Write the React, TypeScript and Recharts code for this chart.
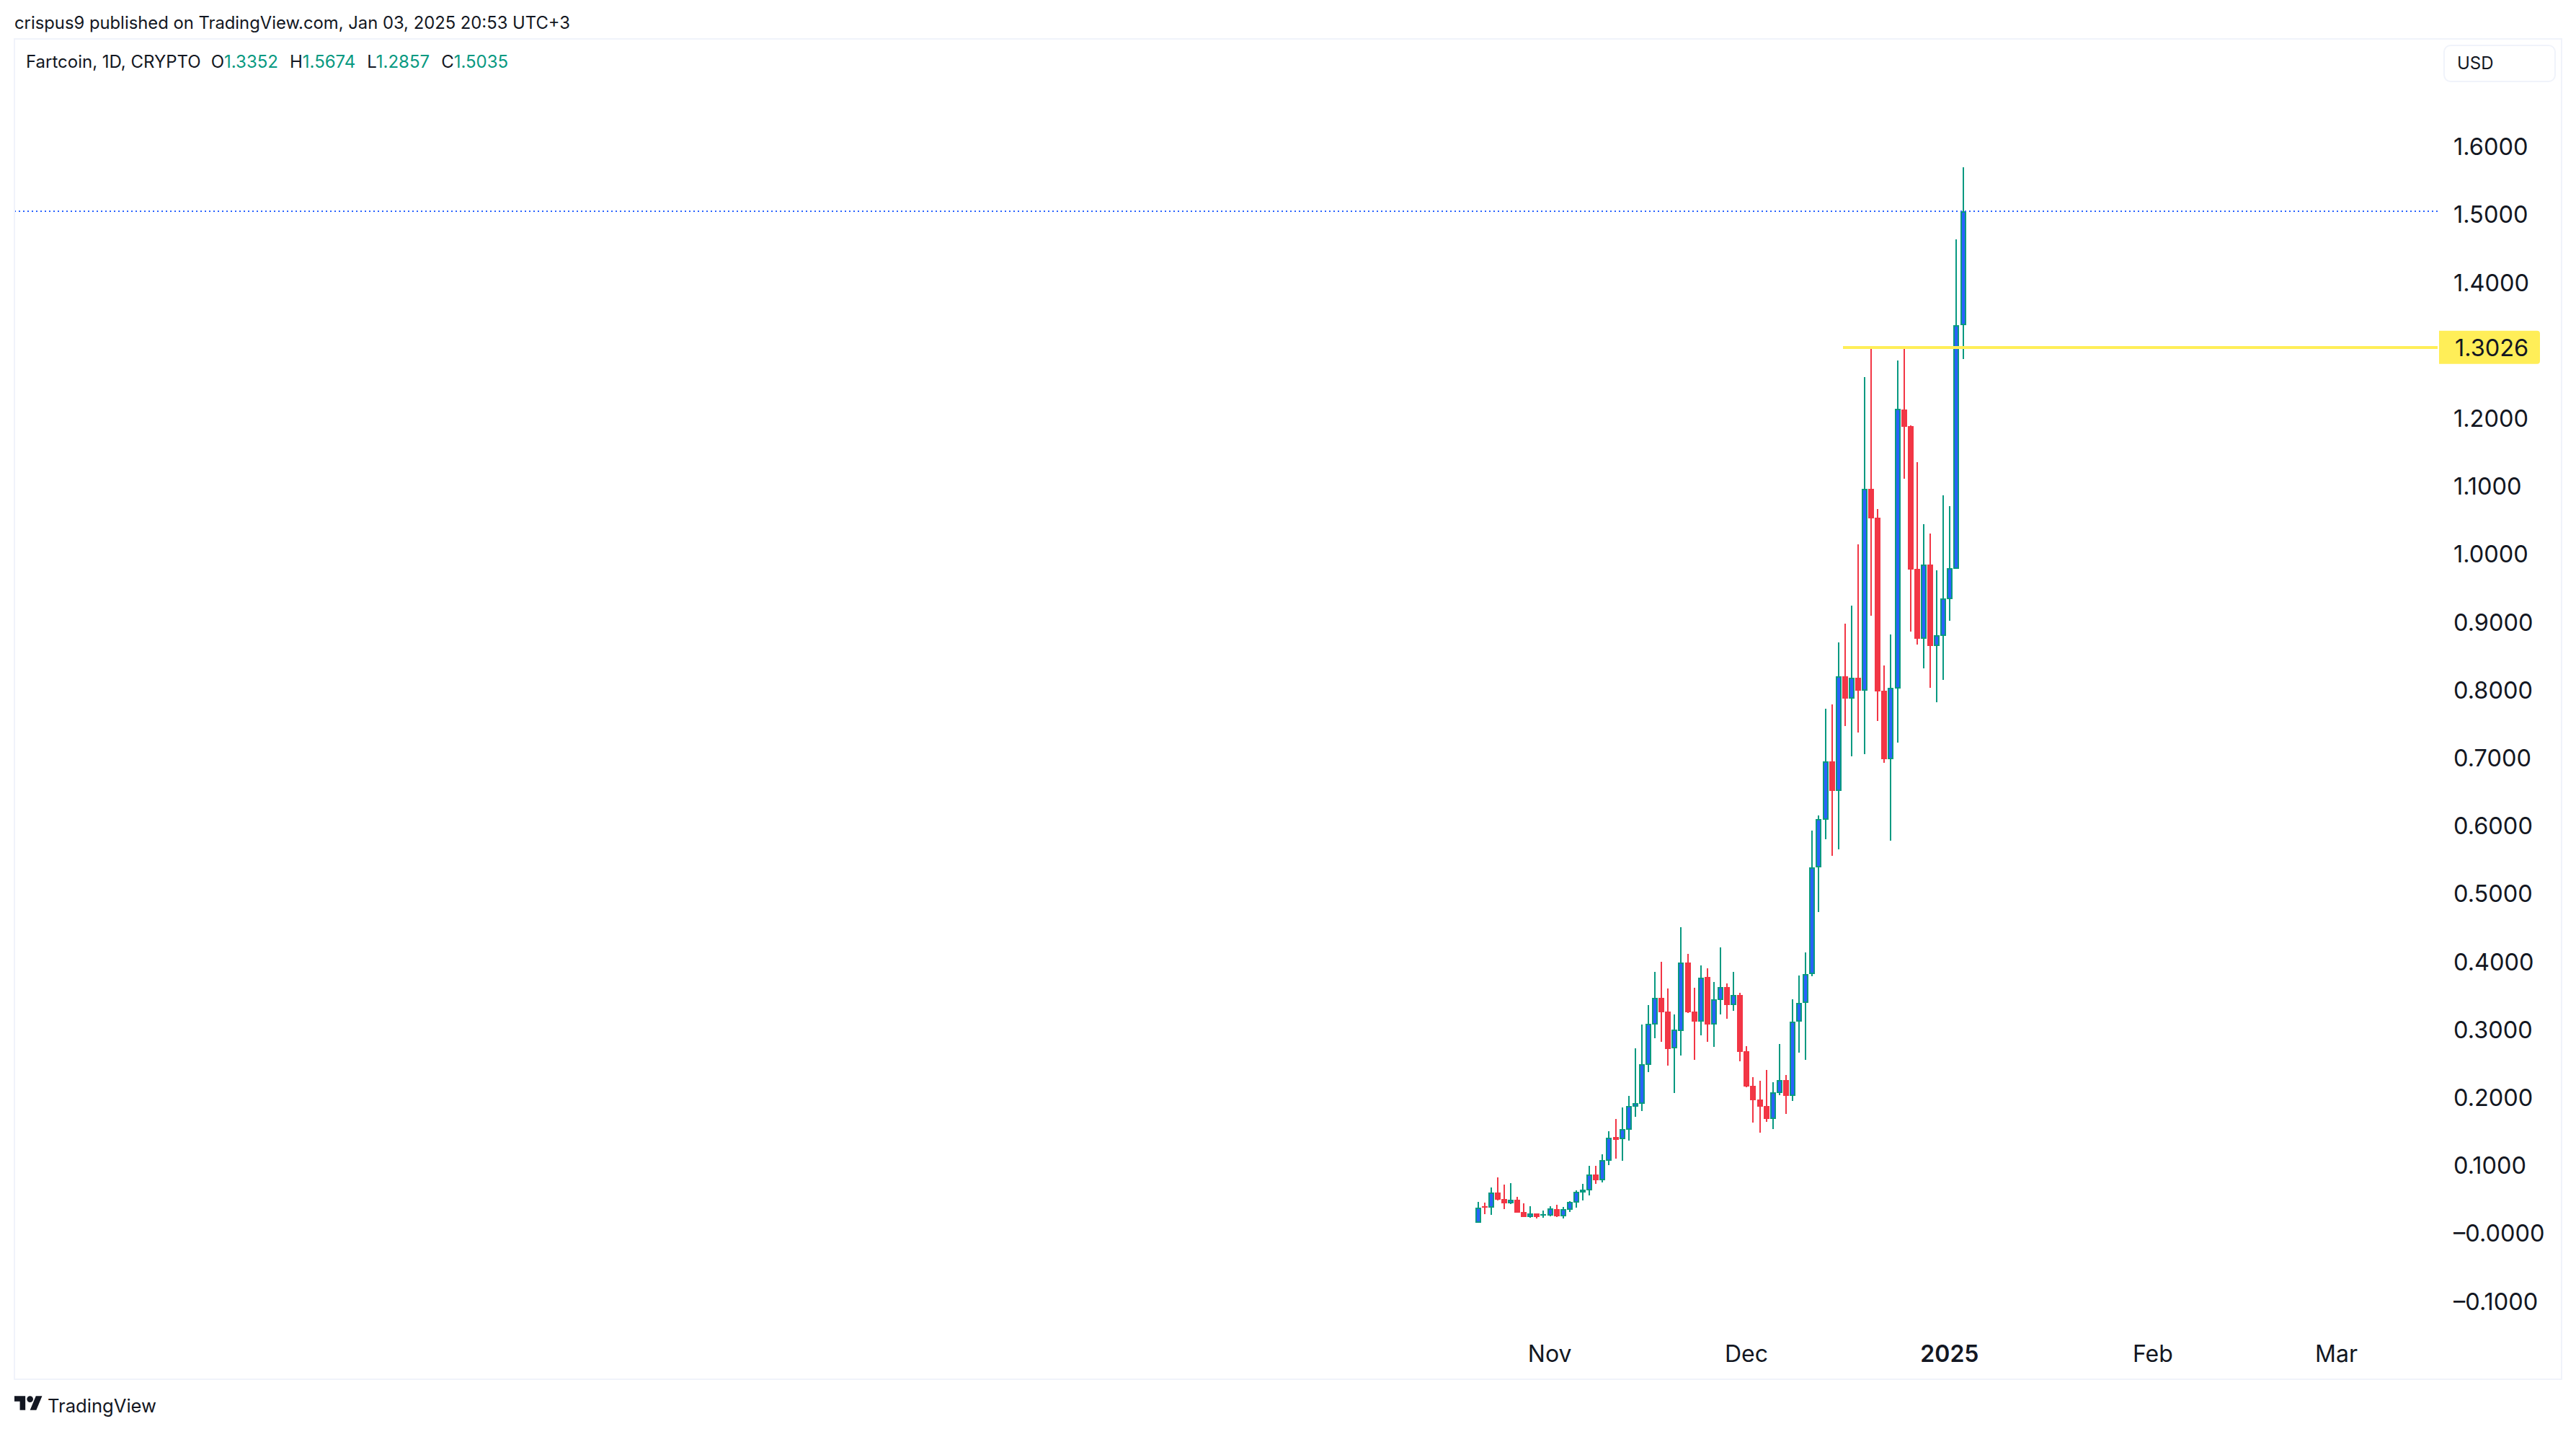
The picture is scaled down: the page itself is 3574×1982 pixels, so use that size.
import {
  Bar,
  ComposedChart,
  ReferenceLine,
  XAxis,
  YAxis,
} from "recharts";

// Daily candles, first one is Oct 21 2024, last one Jan 3 2025
const opens = [
  0.014, 0.0381, 0.036, 0.0583, 0.0487, 0.0424, 0.0477, 0.0296, 0.0222, 0.0275,
  0.0243, 0.0243, 0.0339, 0.0233, 0.0328, 0.0434, 0.0583, 0.0615, 0.0848, 0.0763,
  0.105, 0.14, 0.1368, 0.1506, 0.1846, 0.1889, 0.2462, 0.3056, 0.3449, 0.3247,
  0.2706, 0.2961, 0.3969, 0.3247, 0.3099, 0.3757, 0.3056, 0.3417, 0.3608, 0.3343,
  0.3492, 0.2664, 0.2154, 0.1952, 0.1857, 0.1666, 0.2048, 0.2239, 0.2005, 0.3099,
  0.3375, 0.3799, 0.537, 0.6071, 0.6931, 0.6496, 0.8184, 0.7855, 0.8162, 0.7971,
  1.0944, 1.0519, 0.7971, 0.6963, 0.8003, 1.2112, 1.1867, 0.9765, 0.8736, 0.9829,
  0.8629, 0.8778, 0.932, 0.9765, 1.3352,
];
const highs = [
  0.0445, 0.0434, 0.0657, 0.0806, 0.07, 0.0721, 0.0519, 0.0424, 0.0381, 0.0275,
  0.0317, 0.0381, 0.0402, 0.0371, 0.0455, 0.0615, 0.071, 0.0976, 0.0976, 0.1145,
  0.1485, 0.1666, 0.1836, 0.2005, 0.2706, 0.3056, 0.3343, 0.3831, 0.398, 0.3587,
  0.3205, 0.4489, 0.4097, 0.3598, 0.3927, 0.3884, 0.3683, 0.4192, 0.3661, 0.3831,
  0.3523, 0.2738, 0.2281, 0.2228, 0.2388, 0.2207, 0.277, 0.2313, 0.3428, 0.3778,
  0.4118, 0.5912, 0.6135, 0.7706, 0.777, 0.8683, 0.8959, 0.9224, 1.0126, 1.2589,
  1.3014, 1.0646, 0.8343, 0.8799, 1.2833, 1.3024, 1.1878, 1.1336, 1.0424, 1.0286,
  0.9744, 1.0848, 1.0689, 1.4617, 1.5674,
];
const lows = [
  0.014, 0.0264, 0.0254, 0.0466, 0.0339, 0.0413, 0.0286, 0.0222, 0.0211, 0.0201,
  0.0211, 0.0233, 0.0222, 0.0201, 0.0296, 0.036, 0.0466, 0.054, 0.071, 0.0731,
  0.0986, 0.1082, 0.105, 0.1347, 0.1698, 0.1782, 0.2356, 0.2855, 0.2802, 0.2451,
  0.2048, 0.26, 0.3226, 0.2536, 0.2897, 0.2802, 0.2727, 0.3205, 0.3141, 0.3258,
  0.2515, 0.2133, 0.1613, 0.1464, 0.1623, 0.1517, 0.2016, 0.174, 0.1931, 0.2642,
  0.2536, 0.3768, 0.4712, 0.5785, 0.554, 0.5636, 0.7451, 0.7005, 0.7356, 0.7037,
  0.9075, 0.7526, 0.691, 0.5763, 0.7207, 1.1092, 0.8842, 0.8651, 0.83, 0.8014,
  0.7801, 0.8131, 0.9001, 0.9765, 1.2857,
];
const closes = [
  0.036, 0.036, 0.0583, 0.0477, 0.0424, 0.0477, 0.0286, 0.0222, 0.0275, 0.0222,
  0.0264, 0.0349, 0.0233, 0.0339, 0.0445, 0.0593, 0.0625, 0.0848, 0.0763, 0.1061,
  0.139, 0.1358, 0.1517, 0.1857, 0.1899, 0.2472, 0.3067, 0.3449, 0.3237, 0.2695,
  0.2982, 0.3969, 0.3237, 0.3099, 0.3746, 0.3056, 0.3428, 0.3608, 0.3343, 0.3492,
  0.2653, 0.2143, 0.1942, 0.1846, 0.1666, 0.2058, 0.2239, 0.2005, 0.3099, 0.3375,
  0.3799, 0.537, 0.6082, 0.6931, 0.6496, 0.8184, 0.7855, 0.8162, 0.7971, 1.0944,
  1.0509, 0.7961, 0.6963, 0.8014, 1.2122, 1.1857, 0.9755, 0.8736, 0.9829, 0.8629,
  0.8789, 0.933, 0.9776, 1.3352, 1.5035,
];

const priceTicks = [
  1.6, 1.5, 1.4, 1.2, 1.1, 1.0, 0.9, 0.8, 0.7, 0.6, 0.5, 0.4, 0.3, 0.2, 0.1, 0,
  -0.1,
];
const monthTicks = [11, 41, 72, 103, 131];
const monthLabels = ["Nov", "Dec", "2025", "Feb", "Mar"];

const levelPrice = 1.3026;
const levelStartDay = 55.7;
const lastDay = 146.45;
const firstDay = -223.1;

const legendLabels = ["O", "H", "L", "C"];
const legendValues = ["1.3352", "1.5674", "1.2857", "1.5035"];

const candles = opens.map((open, i) => ({
  day: i,
  open,
  high: highs[i],
  low: lows[i],
  close: closes[i],
}));

const GREEN = "#089981";
const RED = "#F23645";
const BLUE = "#2962FF";
const YELLOW = "#FFEE58";
const TEXT = "#131722";
const FRAME = "#F0F3FA";
const FONT = "Inter, sans-serif";

// high/low come in as the bar's box, open/close are placed from it
const Candle = (props: any) => {
  const { x, y, width, height, payload } = props;
  const perUnit = height / (payload.high - payload.low);
  const toY = (v: number) => y + (payload.high - v) * perUnit;
  const up = payload.close >= payload.open;
  const color = up ? GREEN : RED;
  const mid = Math.round(x + width / 2);
  const top = Math.round(toY(Math.max(payload.open, payload.close)));
  const bottom = Math.round(toY(Math.min(payload.open, payload.close)));
  const bodyH = Math.max(bottom - top, 2);
  const wickTop = Math.round(y);
  const wickH = Math.round(y + height) - wickTop;
  return (
    <g shapeRendering="crispEdges">
      <rect x={mid - 1} y={wickTop} width={2} height={wickH} fill={color} />
      <rect x={mid - 4} y={top} width={8} height={bodyH} fill={color} />
      {up && bodyH > 4 && (
        <rect x={mid - 2} y={top + 2} width={4} height={bodyH - 4} fill={BLUE} />
      )}
    </g>
  );
};

const MonthTick = (props: any) => {
  const { x, y, payload } = props;
  const label = monthLabels[monthTicks.indexOf(payload.value)];
  return (
    <text
      x={x}
      y={y + 41}
      textAnchor="middle"
      fontFamily={FONT}
      fontSize={32}
      fontWeight={label === "2025" ? 600 : 400}
      fill={TEXT}
    >
      {label}
    </text>
  );
};

// TradingView prints zero with a minus here too
const formatPrice = (v: number) =>
  v <= 0 ? `\u2013${Math.abs(v).toFixed(4)}` : v.toFixed(4);

const PriceTag = (props: any) => {
  const { viewBox } = props;
  const right = viewBox.x + viewBox.width;
  const y = viewBox.y;
  return (
    <g>
      <path
        d={`M${right + 2} ${y - 23}h136a4 4 0 0 1 4 4v38a4 4 0 0 1 -4 4h-136z`}
        fill={YELLOW}
      />
      <text
        x={right + 24}
        y={y + 12}
        fontFamily={FONT}
        fontSize={32.5}
        fill={TEXT}
      >
        {levelPrice.toFixed(4)}
      </text>
    </g>
  );
};

export default function App() {
  return (
    <div
      style={{
        position: "absolute",
        left: 0,
        top: 0,
        width: 3574,
        height: 1982,
        background: "#fff",
        fontFamily: FONT,
        color: TEXT,
      }}
    >
      {/* Published line */}
      <div style={{ position: "absolute", left: 20, top: 17, fontSize: 23.8, whiteSpace: "nowrap" }}>
        crispus9 published on TradingView.com, Jan 03, 2025 20:53 UTC+3
      </div>

      {/* Chart frame */}
      <div
        style={{
          position: "absolute",
          left: 19,
          top: 53,
          width: 3532,
          height: 1857,
          border: `2px solid ${FRAME}`,
        }}
      />

      {/* OHLC legend */}
      <div
        style={{
          position: "absolute",
          left: 36,
          top: 71,
          fontSize: 24,
          whiteSpace: "nowrap",
          display: "flex",
        }}
      >
        <span style={{ marginRight: 14 }}>Fartcoin, 1D, CRYPTO</span>
        {legendLabels.map((l, i) => (
          <span key={l} style={{ marginRight: 16 }}>
            {l}
            <span style={{ color: GREEN }}>{legendValues[i]}</span>
          </span>
        ))}
      </div>

      {/* Currency button */}
      <div
        style={{
          position: "absolute",
          left: 3390,
          top: 62,
          width: 152,
          height: 48,
          border: `2px solid ${FRAME}`,
          borderRadius: 10,
          fontSize: 24,
          lineHeight: "48px",
        }}
      >
        <span style={{ marginLeft: 17 }}>USD</span>
      </div>

      <div style={{ position: "absolute", left: 0, top: 0 }}>
        <ComposedChart
          width={3574}
          height={1982}
          data={candles}
          margin={{ top: 54, right: 0, bottom: 0, left: 21 }}
        >
          <XAxis
            dataKey="day"
            type="number"
            domain={[firstDay, lastDay]}
            ticks={monthTicks}
            tick={<MonthTick />}
            axisLine={false}
            tickLine={false}
            height={142}
            interval={0}
          />
          <YAxis
            orientation="right"
            type="number"
            domain={[-0.1392, 1.7568]}
            ticks={priceTicks}
            tickFormatter={formatPrice}
            axisLine={false}
            tickLine={false}
            tickSize={0}
            tickMargin={22}
            width={192}
            interval={0}
            tick={{ fontFamily: FONT, fontSize: 32.5, fill: TEXT, dy: 2 }}
          />
          <ReferenceLine
            y={closes[closes.length - 1]}
            stroke={BLUE}
            strokeWidth={2}
            strokeDasharray="2 4"
            shapeRendering="crispEdges"
          />
          <ReferenceLine
            segment={[
              { x: levelStartDay, y: levelPrice },
              { x: lastDay, y: levelPrice },
            ]}
            stroke={YELLOW}
            strokeWidth={4}
            shapeRendering="crispEdges"
            label={<PriceTag />}
          />
          <Bar
            dataKey={(d: any) => [d.low, d.high]}
            barSize={8}
            isAnimationActive={false}
            shape={<Candle />}
          />
        </ComposedChart>
      </div>

      {/* Logo */}
      <svg
        style={{ position: "absolute", left: 20, top: 1936 }}
        width={39}
        height={20}
        viewBox="0 4 36 18"
      >
        <path d="M14 22H7V11H0V4h14v18zM28 22h-8l7.5-18h8L28 22z" fill={TEXT} />
        <circle cx={20} cy={8} r={4} fill={TEXT} />
      </svg>
      <div style={{ position: "absolute", left: 66, top: 1934, fontSize: 25.6, whiteSpace: "nowrap" }}>
        TradingView
      </div>
    </div>
  );
}
